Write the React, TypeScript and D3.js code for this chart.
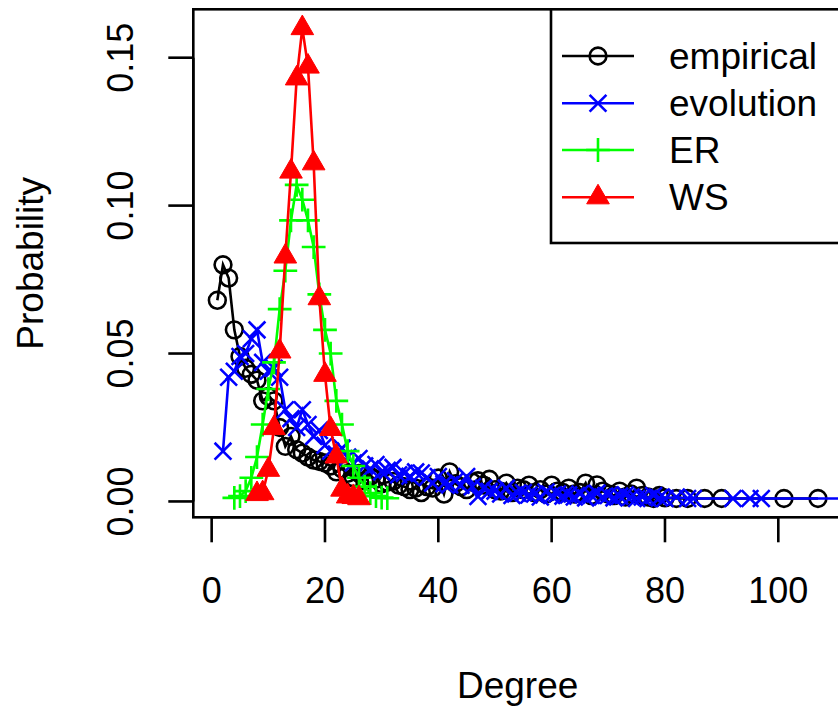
import React from "react";
import * as d3 from "d3";

const W = 838;
const H = 706;
const FONT = "'Liberation Sans', Arial, Helvetica, sans-serif";

// Empirical degree distribution
const empiricalDegree = [
  1, 2, 3, 4, 5, 6, 7, 8, 9, 10, 11, 12, 13, 14, 15, 16, 17, 18, 19, 20,
  21, 22, 23, 24, 25, 26, 27, 28, 29, 30, 31, 32, 33, 34, 35, 36, 37, 38, 39, 40,
  41, 42, 43, 44, 45, 46, 47, 48, 49, 50, 51, 52, 53, 54, 55, 56, 57, 58, 59, 60,
  61, 62, 63, 64, 65, 66, 67, 68, 69, 70, 71, 72, 73, 74, 75, 76, 77, 78, 79, 80,
  82, 84, 87, 90, 101, 107,
];
const empiricalProb = [
  0.068, 0.08, 0.0755, 0.058, 0.049, 0.045, 0.043, 0.041, 0.034, 0.0355,
  0.034, 0.025, 0.0186, 0.022, 0.0175, 0.0163, 0.015, 0.014, 0.0135, 0.013,
  0.012, 0.01, 0.011, 0.0095, 0.008, 0.0095, 0.007, 0.0085, 0.0075, 0.006,
  0.0065, 0.0068, 0.0055, 0.005, 0.004, 0.0045, 0.003, 0.005, 0.0045, 0.0079,
  0.0025, 0.01, 0.006, 0.005, 0.004, 0.0065, 0.007, 0.0055, 0.0075, 0.004,
  0.0035, 0.0062, 0.003, 0.0045, 0.004, 0.0055, 0.003, 0.004, 0.0025, 0.0055,
  0.0035, 0.003, 0.0045, 0.0025, 0.003, 0.0062, 0.002, 0.0056, 0.0035, 0.0025,
  0.002, 0.0035, 0.0015, 0.0025, 0.0045, 0.002, 0.0015, 0.001, 0.002, 0.0012,
  0.001, 0.001, 0.001, 0.001, 0.001, 0.001,
];

// Evolution model
const evolutionDegree = [
  2, 3, 4, 5, 6, 7, 8, 9, 10, 11, 12, 13, 14, 15, 16, 17, 18, 19, 20, 21,
  22, 23, 24, 25, 26, 27, 28, 29, 30, 31, 32, 33, 34, 35, 36, 37, 38, 39, 40, 41,
  42, 43, 44, 45, 46, 47, 48, 49, 50, 51, 52, 53, 54, 55, 56, 57, 58, 59, 60, 61,
  62, 63, 64, 65, 66, 67, 68, 69, 70, 71, 72, 73, 74, 75, 76, 77, 78, 79, 80, 82,
  84, 85, 92, 95, 97, 130,
];
const evolutionProb = [
  0.017, 0.042, 0.044, 0.049, 0.05, 0.055, 0.058, 0.047, 0.044, 0.045,
  0.042, 0.031, 0.028, 0.025, 0.031, 0.026, 0.022, 0.024, 0.019, 0.017,
  0.016, 0.018, 0.015, 0.013, 0.0145, 0.012, 0.011, 0.0125, 0.01, 0.0105,
  0.0115, 0.009, 0.0095, 0.0085, 0.01, 0.0096, 0.008, 0.0062, 0.0084, 0.006,
  0.0056, 0.007, 0.0055, 0.0084, 0.005, 0.0017, 0.0045, 0.0034, 0.0035, 0.0025,
  0.0045, 0.002, 0.0028, 0.003, 0.0022, 0.0025, 0.0015, 0.0032, 0.002, 0.0025,
  0.0018, 0.0022, 0.0015, 0.0025, 0.0012, 0.002, 0.0028, 0.0015, 0.002, 0.0012,
  0.0018, 0.0022, 0.0015, 0.001, 0.0015, 0.001, 0.002, 0.0012, 0.001, 0.0015,
  0.001, 0.001, 0.001, 0.001, 0.001, 0.001,
];

// Erdős–Rényi random graph
const erDegree = [
  4, 5, 6, 7, 8, 9, 10, 11, 12, 13, 14, 15, 16, 17, 18, 19, 20, 21, 22, 23,
  24, 25, 26, 27, 28, 29, 30, 31,
];
const erProb = [
  0.0012, 0.0018, 0.0035, 0.008, 0.015, 0.026, 0.038, 0.047, 0.065, 0.078,
  0.095, 0.107, 0.102, 0.095, 0.086, 0.07, 0.058, 0.05, 0.034, 0.026,
  0.017, 0.012, 0.008, 0.005, 0.0028, 0.0018, 0.0013, 0.0011,
];

// Watts–Strogatz small world
const wsDegree = [8, 9, 10, 11, 12, 13, 14, 15, 16, 17, 18, 19, 20, 21, 22, 23, 24, 25, 26];
const wsProb = [
  0.0025, 0.0028, 0.0107, 0.0248, 0.0507, 0.0828, 0.1115, 0.143, 0.16, 0.147,
  0.1143, 0.0687, 0.0428, 0.0245, 0.0152, 0.004, 0.0017, 0.0015, 0.0011,
];

const legendLabels = ["empirical", "evolution", "ER", "WS"];
const xTicks = [0, 20, 40, 60, 80, 100];
const yTicks = [0, 0.05, 0.1, 0.15];

// Plot region (R style: axes extend 4% beyond the data range)
const PL = 193.3;
const PR = 842;
const PT = 9.3;
const PB = 517.3;

function padRange([a, b]: [number, number]): [number, number] {
  const d = (b - a) * 0.04;
  return [a - d, b + d];
}

const allProb = [...empiricalProb, ...evolutionProb, ...erProb, ...wsProb];
const x = d3
  .scaleLinear()
  .domain(padRange(d3.extent(empiricalDegree) as [number, number]))
  .range([PL, PR]);
const y = d3
  .scaleLinear()
  .domain(padRange(d3.extent(allProb) as [number, number]))
  .range([PB, PT]);

const RAD = 8.4; // symbol radius
const LW = 2.6;

type Pch = "circle" | "cross" | "plus" | "triangle";

function Symbol({ kind, cx, cy, color }: { kind: Pch; cx: number; cy: number; color: string }) {
  if (kind === "circle") {
    return <circle cx={cx} cy={cy} r={RAD} fill="none" stroke={color} strokeWidth={LW} />;
  }
  if (kind === "cross") {
    const a = RAD;
    return (
      <path
        d={`M${cx - a},${cy - a}L${cx + a},${cy + a}M${cx - a},${cy + a}L${cx + a},${cy - a}`}
        stroke={color}
        strokeWidth={LW}
        fill="none"
      />
    );
  }
  if (kind === "plus") {
    const a = RAD * Math.SQRT2;
    return (
      <path
        d={`M${cx - a},${cy}L${cx + a},${cy}M${cx},${cy - a}L${cx},${cy + a}`}
        stroke={color}
        strokeWidth={LW}
        fill="none"
      />
    );
  }
  const trc0 = Math.sqrt((4 * Math.PI) / (3 * Math.sqrt(3)));
  const r = trc0 * RAD;
  const yc = (trc0 / 2) * RAD;
  const xc = ((trc0 * Math.sqrt(3)) / 2) * RAD;
  return (
    <path
      d={`M${cx},${cy - r}L${cx + xc},${cy + yc}L${cx - xc},${cy + yc}Z`}
      fill={color}
      stroke={color}
      strokeWidth={1}
    />
  );
}

const series: { name: string; degree: number[]; prob: number[]; color: string; pch: Pch }[] = [
  { name: legendLabels[0], degree: empiricalDegree, prob: empiricalProb, color: "#000000", pch: "circle" },
  { name: legendLabels[1], degree: evolutionDegree, prob: evolutionProb, color: "#0000FF", pch: "cross" },
  { name: legendLabels[2], degree: erDegree, prob: erProb, color: "#00FF00", pch: "plus" },
  { name: legendLabels[3], degree: wsDegree, prob: wsProb, color: "#FF0000", pch: "triangle" },
];

export default function App() {
  const line = d3
    .line<[number, number]>()
    .x((d) => x(d[0]))
    .y((d) => y(d[1]));

  const legendX0 = 551;
  const legendY1 = 243;
  const rowY = [56, 103.3, 150, 197.3];

  return (
    <svg
      width={W}
      height={H}
      viewBox={`0 0 ${W} ${H}`}
      style={{ position: "absolute", left: 0, top: 0, background: "#ffffff" }}
      fontFamily={FONT}
    >
      <defs>
        <clipPath id="plotArea">
          <rect x={PL} y={PT} width={PR - PL} height={PB - PT} />
        </clipPath>
      </defs>
      <rect x={0} y={0} width={W} height={H} fill="#ffffff" />

      <g clipPath="url(#plotArea)">
        {series.map((s) => {
          const pts = s.degree.map((d, i) => [d, s.prob[i]] as [number, number]);
          return (
            <g key={s.name}>
              <path d={line(pts) ?? ""} fill="none" stroke={s.color} strokeWidth={LW} />
              {pts.map((p, i) => (
                <Symbol key={i} kind={s.pch} cx={x(p[0])} cy={y(p[1])} color={s.color} />
              ))}
            </g>
          );
        })}
      </g>

      {/* plot frame */}
      <rect x={PL} y={PT} width={PR - PL} height={PB - PT} fill="none" stroke="#000" strokeWidth={LW} />

      {/* x axis */}
      <g>
        <line x1={x(xTicks[0])} x2={x(xTicks[xTicks.length - 1])} y1={PB} y2={PB} stroke="#000" strokeWidth={LW} />
        {xTicks.map((t) => (
          <g key={t}>
            <line x1={x(t)} x2={x(t)} y1={PB} y2={PB + 25} stroke="#000" strokeWidth={LW} />
            <text x={x(t)} y={603} textAnchor="middle" fontSize={36}>
              {t}
            </text>
          </g>
        ))}
        <text x={(PL + PR) / 2} y={698} textAnchor="middle" fontSize={37}>
          Degree
        </text>
      </g>

      {/* y axis */}
      <g>
        <line x1={PL} x2={PL} y1={y(yTicks[0])} y2={y(yTicks[yTicks.length - 1])} stroke="#000" strokeWidth={LW} />
        {yTicks.map((t) => (
          <g key={t}>
            <line x1={PL - 25} x2={PL} y1={y(t)} y2={y(t)} stroke="#000" strokeWidth={LW} />
            <text
              transform={`translate(133,${y(t)}) rotate(-90)`}
              textAnchor="middle"
              fontSize={36}
            >
              {d3.format(".2f")(t)}
            </text>
          </g>
        ))}
        <text transform={`translate(43,${(PT + PB) / 2}) rotate(-90)`} textAnchor="middle" fontSize={37}>
          Probability
        </text>
      </g>

      {/* legend */}
      <g>
        <rect x={legendX0} y={PT} width={PR - legendX0} height={legendY1 - PT} fill="#fff" stroke="#000" strokeWidth={LW} />
        {series.map((s, i) => (
          <g key={s.name}>
            <line x1={562} x2={634} y1={rowY[i]} y2={rowY[i]} stroke={s.color} strokeWidth={LW} />
            <Symbol kind={s.pch} cx={598} cy={rowY[i]} color={s.color} />
            <text x={669} y={rowY[i] + 13} fontSize={37}>
              {s.name}
            </text>
          </g>
        ))}
      </g>
    </svg>
  );
}
